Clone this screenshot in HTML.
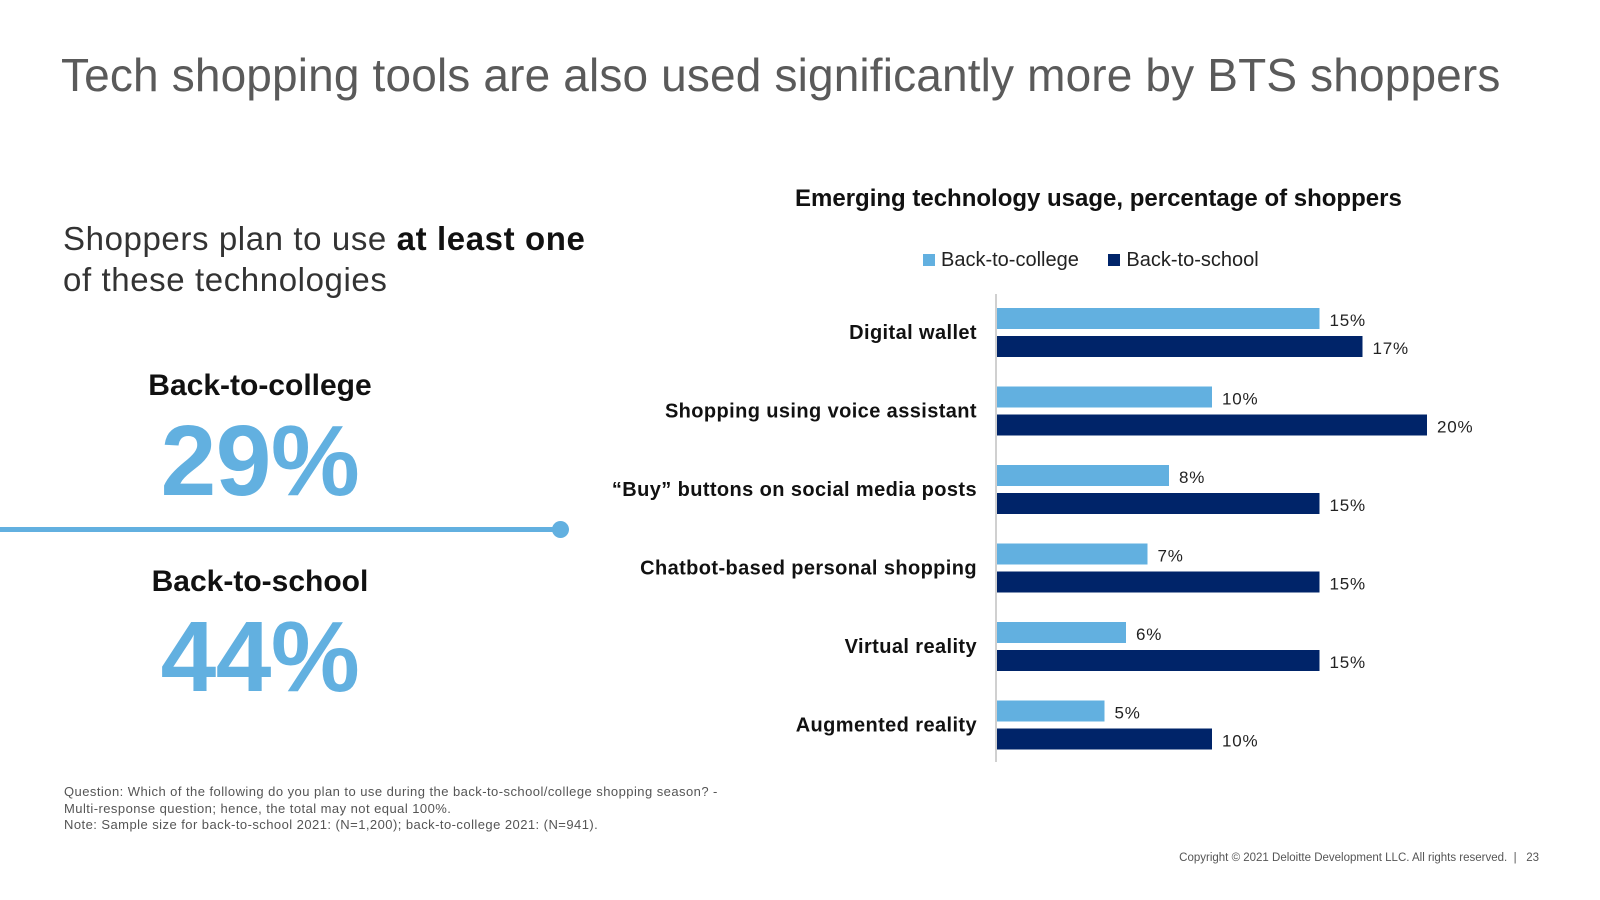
<!DOCTYPE html>
<html><head><meta charset="utf-8"><style>
body{margin:0;width:1600px;height:900px;background:#fff;font-family:"Liberation Sans",sans-serif;position:relative;overflow:hidden}
.a{position:absolute;white-space:nowrap}
</style></head><body>
<div class="a" style="left:61px;top:48px;font-size:46px;letter-spacing:0.15px;color:#5a5a5a">Tech shopping tools are also used significantly more by BTS shoppers</div>
<div class="a" style="left:63px;top:218px;font-size:33px;letter-spacing:0.6px;color:#333;line-height:41px">Shoppers plan to use <b style="color:#111">at least one</b><br>of these technologies</div>
<div class="a" style="left:60px;width:400px;text-align:center;top:369px;font-size:30px;font-weight:bold;color:#111">Back-to-college</div>
<div class="a" style="left:60px;width:400px;text-align:center;top:404px;font-size:100px;font-weight:bold;color:#62b0e0;letter-spacing:-0.5px">29%</div>
<div class="a" style="left:0;top:527px;width:560px;height:5px;background:#62b0e0"></div>
<div class="a" style="left:552px;top:521px;width:17px;height:17px;border-radius:50%;background:#62b0e0"></div>
<div class="a" style="left:60px;width:400px;text-align:center;top:565px;font-size:30px;font-weight:bold;color:#111">Back-to-school</div>
<div class="a" style="left:60px;width:400px;text-align:center;top:600px;font-size:100px;font-weight:bold;color:#62b0e0;letter-spacing:-0.5px">44%</div>
<div class="a" style="left:64px;top:784px;font-size:13px;letter-spacing:0.45px;color:#555;line-height:16.5px">Question: Which of the following do you plan to use during the back-to-school/college shopping season? -<br>Multi-response question; hence, the total may not equal 100%.<br>Note: Sample size for back-to-school 2021: (N=1,200); back-to-college 2021: (N=941).</div>
<div class="a" style="right:61px;top:852px;font-size:11.5px;color:#555">Copyright © 2021 Deloitte Development LLC. All rights reserved. &nbsp;| &nbsp;&nbsp;23</div>
<div class="a" style="left:795px;width:600px;text-align:center;top:185px;font-size:24px;font-weight:bold;color:#111">Emerging technology usage, percentage of shoppers</div>
<div class="a" style="left:923px;top:249px;font-size:20px;color:#222">
<span><span style="display:inline-block;width:12px;height:12px;background:#62b0e0;margin-right:6px"></span>Back-to-college</span>
<span style="margin-left:24px"><span style="display:inline-block;width:12px;height:12px;background:#002469;margin-right:6px"></span>Back-to-school</span></div>
<svg id="chart" width="1600" height="900" style="position:absolute;left:0;top:0"></svg>
<script>
const categories=["Digital wallet","Shopping using voice assistant","\u201cBuy\u201d buttons on social media posts","Chatbot-based personal shopping","Virtual reality","Augmented reality"];
const college=[15,10,8,7,6,5];
const school=[17,20,15,15,15,10];
const NS="http://www.w3.org/2000/svg",svg=document.getElementById('chart');
const x0=996,perPct=21.5,y0=308,step=78.5,bh=21;
const xs=v=>v*perPct;
function mk(t,a){const e=document.createElementNS(NS,t);for(const k in a)e.setAttribute(k,a[k]);svg.appendChild(e);return e;}
const ax=mk('line',{x1:x0,x2:x0,y1:294,y2:762,stroke:'#d0d0d0','stroke-width':2});


categories.forEach((c,i)=>{
 const y=y0+i*step;
 const l=mk('text',{x:x0-19,y:y+31,'text-anchor':'end','font-size':20,'letter-spacing':0.4,'font-weight':'bold',fill:'#111','font-family':'Liberation Sans'});l.textContent=c;
 
 
 [[college[i],'#62b0e0',0],[school[i],'#002469',28]].forEach(([v,col,dy])=>{
  const r=mk('rect',{x:x0+1,y:y+dy,width:xs(v),height:bh,fill:col});
  
  
  const t=mk('text',{x:x0+1+xs(v)+10,y:y+dy+18,'font-size':17,'letter-spacing':0.8,fill:'#222','font-family':'Liberation Sans'});t.textContent=v+'%';
  
  
 });
});
</script>
</body></html>
